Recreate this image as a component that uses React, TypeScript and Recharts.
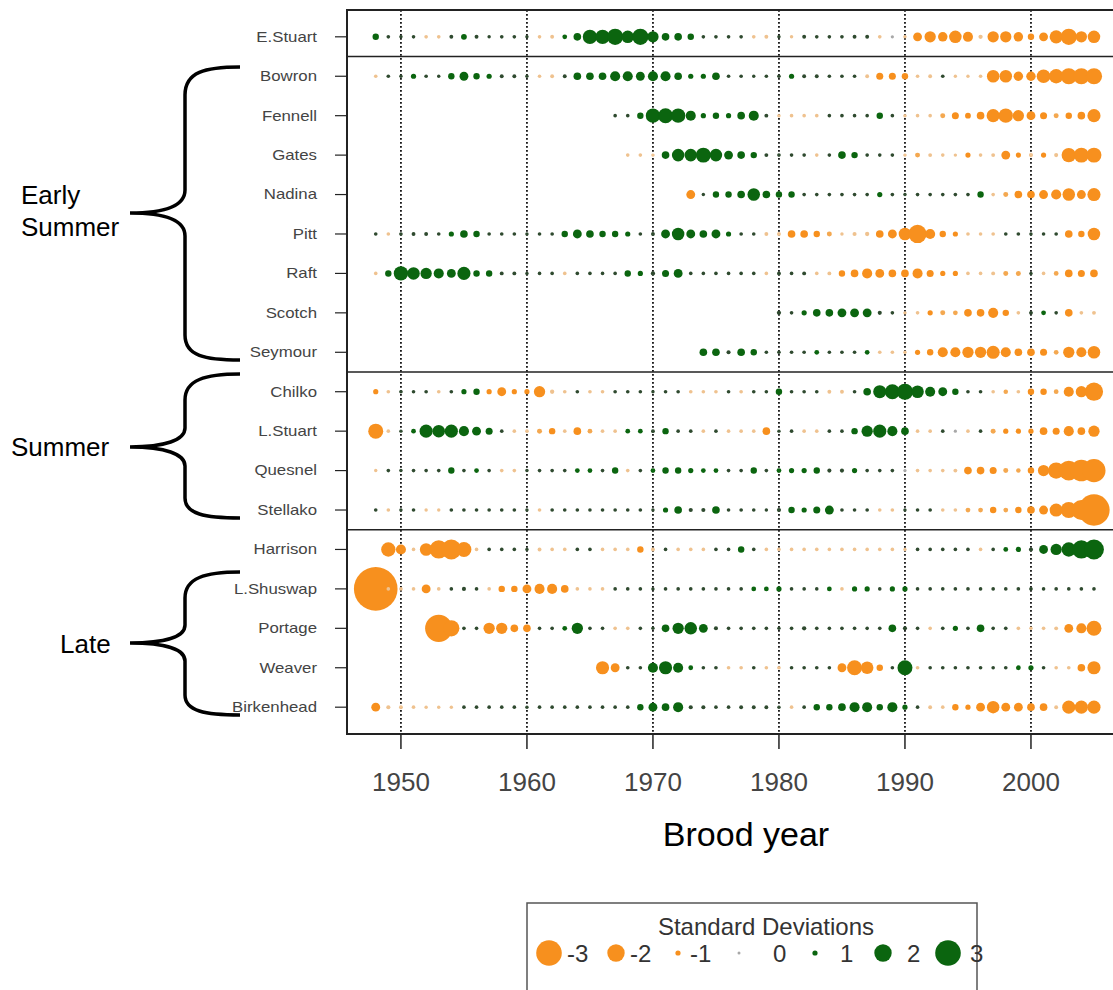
import React from "react";
import {
  ScatterChart, Scatter, XAxis, YAxis, CartesianGrid, ReferenceLine, ReferenceArea,
} from "recharts";

// stocks, top to bottom
const stocks = [
  "E.Stuart", "Bowron", "Fennell", "Gates", "Nadina", "Pitt", "Raft", "Scotch", "Seymour",
  "Chilko", "L.Stuart", "Quesnel", "Stellako",
  "Harrison", "L.Shuswap", "Portage", "Weaver", "Birkenhead",
];
const startYears = [1948, 1948, 1967, 1968, 1973, 1948, 1948, 1980, 1974, 1948, 1948, 1948, 1948, 1949, 1948, 1953, 1966, 1948];

// standardized residuals (in SD) by brood year, from each stock's first year
const eStuart = [
  1.1, 0.3, 0.2, 0.3, -0.3, -0.3, 0.4, 1.05, 0.4, 0.2,
  0.3, 0.3, 0.2, -0.3, -0.4, 0.8, 1.2, 1.75, 1.75, 1.9,
  1.6, 1.9, 1.5, 1.2, 1.2, 1.1, 0.3, 0.3, 0.3, 0.3,
  -0.3, -0.4, 0.2, -0.2, 0.4, 0.3, 0.3, 0.3, 0.4, 0.4,
  -0.3, -0.1, -0.2, -1.3, -1.5, -1.35, -1.6, -1.4, -0.6, -1.5,
  -1.5, -1.35, -1.1, -1.3, -1.65, -1.9, -1.5, -1.6,
];
const bowron = [
  -0.3, 0.3, 0.2, 1.0, 0.3, 0.2, 1.1, 1.3, 1.1, 1.0,
  0.4, 0.4, 0.2, -0.3, -0.4, 0.4, 1.2, 1.2, 1.2, 1.4,
  1.4, 1.3, 1.4, 1.4, 1.2, 1.0, 1.0, 1.2, 0.3, 0.3,
  0.2, 0.3, 0.3, 1.0, 0.4, 0.4, 0.3, 0.3, 0.3, -0.4,
  -1.15, -1.15, -1.1, -0.3, -0.4, 0.3, -0.2, -0.2, -0.3, -1.6,
  -1.6, -1.35, -1.35, -1.7, -1.75, -1.9, -1.9, -1.9,
];
const fennell = [
  0.3, 0.3, 1.1, 1.75, 1.8, 1.75, 1.4, 1.0, 1.1, 1.0,
  1.2, 1.4, 0.4, -0.2, -0.3, -0.3, -0.3, 0.3, 0.3, 0.3,
  0.3, 1.1, 0.3, -0.2, -0.3, -0.3, -0.9, -1.15, -1.05, -1.2,
  -1.65, -1.75, -1.5, -1.3, -1.15, -0.9, -1.1, -1.2, -1.65,
];
const gates = [
  -0.3, -0.3, -0.2, 1.2, 1.6, 1.6, 1.8, 1.6, 1.3, 1.2,
  1.1, 0.4, 0.3, 0.3, 0.3, -0.3, 0.3, 1.2, 1.1, 0.3,
  0.3, 0.3, -0.2, -0.9, -0.4, -0.3, -0.2, -1.0, -0.3, -0.4,
  -1.3, -1.0, -0.5, -1.0, -0.5, -1.75, -1.8, -1.8,
];
const nadina = [
  -1.3, 0.2, 1.1, 1.1, 1.2, 1.6, 1.2, 1.1, 1.1, 0.3,
  0.3, 0.3, 0.3, 0.3, 0.3, 1.0, 0.3, 0.2, 0.3, 0.3,
  0.3, 0.3, 0.3, 1.1, -0.3, -0.9, -1.2, -1.2, -1.3, -1.4,
  -1.6, -1.3, -1.65,
];
const pitt = [
  0.3, -0.3, 0.3, 0.4, 0.4, 0.3, 1.0, 1.2, 1.1, 0.3,
  0.3, 0.3, 0.2, 0.3, 0.3, 1.1, 1.3, 1.2, 1.1, 1.1,
  1.0, 0.3, 0.4, 1.3, 1.6, 1.3, 1.2, 1.3, 1.0, 0.3,
  0.3, -0.4, -0.4, -1.2, -1.2, -1.1, -0.9, -0.2, -0.5, -0.6,
  -1.2, -1.3, -1.6, -2.1, -1.4, -1.1, -1.0, -0.3, -0.3, -0.3,
  0.3, 0.3, 0.2, 0.3, 0.3, -1.2, -1.1, -1.6,
];
const raft = [
  -0.3, 1.1, 1.75, 1.6, 1.5, 1.4, 1.3, 1.65, 1.1, 1.1,
  0.4, 0.4, 0.2, 0.3, 0.3, -0.3, 0.3, 0.3, 0.3, 0.3,
  1.1, 1.0, 0.6, 1.15, 1.3, 0.3, 0.3, 0.3, 0.3, 0.3,
  0.3, -0.3, 0.4, 0.3, 0.4, -0.3, -0.4, -1.1, -1.2, -1.4,
  -1.3, -1.2, -1.2, -1.4, -1.15, -1.0, -1.0, -0.3, -0.3, -0.4,
  -0.9, -0.9, 0.2, -0.3, -0.8, -1.2, -1.15, -1.2,
];
const scotch = [
  0.6, 0.3, 1.0, 1.2, 1.2, 1.3, 1.3, 1.3, 0.5, 0.3,
  -0.2, -0.3, -1.0, -0.9, -0.8, -1.2, -1.2, -1.4, -1.1, -0.3,
  0.4, 0.8, 0.3, -1.2, -0.3, -0.4,
];
const seymour = [
  1.2, 1.2, 0.5, 1.2, 1.1, 0.3, 0.3, 0.3, 0.3, 0.8,
  0.3, 0.3, 0.3, 0.8, -0.3, -0.3, -0.2, -1.0, -1.1, -1.4,
  -1.4, -1.5, -1.5, -1.65, -1.4, -1.2, -1.2, -1.15, -0.8, -1.5,
  -1.4, -1.6,
];
const chilko = [
  -1.0, -0.3, 0.3, 0.3, 0.3, -0.3, 0.3, 1.0, 1.1, -1.0,
  -1.3, -1.0, -1.0, -1.5, -0.6, -0.3, 0.3, -0.3, -0.3, 0.3,
  0.3, 0.3, 0.2, 0.3, 0.3, -0.3, -0.3, -0.3, 0.3, -0.3,
  0.3, 0.3, 1.1, 0.3, 0.3, 0.3, -0.4, -0.4, 0.3, 1.2,
  1.65, 1.8, 1.9, 1.6, 1.4, 1.3, 1.1, 0.3, 0.3, -0.3,
  -0.7, -0.3, -1.1, -1.1, -0.8, -1.4, -1.5, -2.1,
];
const lStuart = [
  -1.8, -0.3, 0.2, 0.8, 1.65, 1.6, 1.65, 1.4, 1.3, 1.15,
  0.3, -0.3, -0.3, -0.9, -1.1, -0.3, -1.2, -0.8, -0.3, -0.3,
  0.8, 0.8, 0.4, 1.1, 0.3, 0.3, -0.3, 0.3, -0.3, -0.3,
  -0.3, -1.2, 0.2, 0.3, -0.3, -0.3, 0.3, 0.3, 1.1, 1.5,
  1.65, 1.4, 1.2, -0.3, -0.3, 0.3, 0.1, -0.3, 0.3, -0.9,
  -1.0, -1.0, -1.0, -1.2, -1.15, -1.4, -1.2, -1.5,
];
const quesnel = [
  -0.2, 0.3, 0.2, 0.3, 0.3, 0.3, 1.1, 0.3, 0.8, 0.3,
  -0.3, -0.3, 0.2, 0.3, 0.3, 0.3, 0.8, 0.8, 0.3, 1.1,
  -0.3, 0.3, 0.8, 1.1, 1.1, 1.0, 0.8, 0.8, 0.3, 0.3,
  1.1, 0.3, 0.8, 1.0, 1.0, 1.1, 0.5, 0.5, 1.0, 0.3,
  0.3, 0.3, 0.1, -0.3, -0.3, -0.3, -0.4, -1.2, -1.2, -1.15,
  -0.9, -0.7, -1.1, -1.5, -1.9, -2.3, -2.5, -2.7,
];
const stellako = [
  0.3, -0.3, 0.2, 0.3, -0.2, -0.2, 0.3, 0.3, 0.3, 0.3,
  0.3, 0.3, 0.2, -0.3, 0.3, 0.3, 0.3, 0.3, 0.3, 0.3,
  0.3, 0.3, 0.2, 1.0, 1.2, 0.5, 0.5, 1.2, 0.3, 0.3,
  0.3, 0.2, 0.5, 1.1, 1.0, 1.15, 1.3, 0.3, 0.3, 0.3,
  -0.3, -0.3, 0.2, 0.3, 0.3, -0.3, -0.3, -0.8, -0.8, -1.1,
  -0.8, -1.1, -1.2, -1.3, -1.65, -1.9, -2.3, -3.7,
];
const harrison = [
  -1.75, -1.4, -0.3, -1.6, -2.1, -2.3, -1.8, -0.3, 0.3, 0.3,
  0.3, 0.2, -0.4, -0.3, -0.3, 0.3, 0.3, -0.3, -0.3, -0.3,
  -1.1, -0.4, 0.3, -0.3, -0.3, -0.3, 0.3, 0.3, 1.1, 0.3,
  -0.3, -0.3, -0.3, -0.3, -0.3, -0.3, -0.3, -0.3, -0.3, -0.3,
  -0.3, -0.2, 0.3, 0.3, 0.3, 0.3, 0.3, -0.3, 0.3, 0.8,
  1.0, 0.5, 1.3, 1.5, 1.75, 2.1, 2.3,
];
const lShuswap = [
  -5.2, -0.3, -0.3, -0.3, -1.3, -0.3, 0.3, 0.5, 0.3, -0.3,
  -1.1, -1.1, -1.3, -1.4, -1.4, -1.2, -0.3, -0.3, -0.3, 0.3,
  0.3, 0.3, 0.2, 0.3, 0.3, 0.3, 0.3, 0.3, 0.3, 0.3,
  0.8, 0.8, 1.0, 0.3, 0.3, 0.3, 0.8, -0.3, 1.0, 1.0,
  0.3, 1.0, 1.0, 0.3, 0.3, 0.3, 0.3, 0.3, 0.3, 0.3,
  0.3, 0.3, 0.3, 0.3, 0.3, 0.3, 0.3, 0.3,
];
const portage = [
  -3.2, -1.9, 0.3, 0.3, -1.5, -1.5, -1.2, -1.2, 0.3, 0.3,
  0.8, 1.5, 0.3, 0.3, -0.3, -0.3, 0.3, 0.2, 1.2, 1.5,
  1.6, 1.3, 0.5, 0.3, 0.3, 0.3, 0.3, 0.2, 0.3, 0.6,
  0.3, 0.3, 0.3, 0.3, 0.3, 0.3, 1.2, 0.5, 0.3, -0.3,
  0.3, 1.0, 0.3, 1.2, 0.3, 0.3, -0.3, -0.2, -0.3, -0.4,
  -1.3, -1.4, -1.8,
];
const weaver = [
  -1.65, -1.3, 0.3, 0.3, 1.4, 1.65, 1.4, 0.8, 0.3, 0.3,
  -0.3, -0.3, 0.3, -0.3, -0.3, 0.3, 0.3, 0.3, 0.3, -1.3,
  -1.8, -1.6, -1.1, 0.3, 1.8, -0.3, 0.3, 0.3, 0.3, 0.3,
  0.3, 0.3, 0.3, 0.8, 1.0, 0.3, -0.3, -0.3, -1.2, -1.65,
];
const birkenhead = [
  -1.3, -0.5, -0.4, -0.3, -0.2, -0.2, -0.2, 0.3, 0.3, 0.3,
  0.3, 0.3, 0.2, 0.3, 0.3, 0.3, 0.3, 0.3, 0.3, 0.3,
  0.3, 1.1, 1.3, 1.2, 1.4, 0.5, 0.5, 0.3, 0.3, 0.4,
  0.4, 0.4, 0.2, -0.3, 0.3, 1.1, 1.1, 1.2, 1.4, 1.4,
  1.1, 1.4, 1.0, 0.3, -0.4, -0.3, -1.1, -1.0, -1.3, -1.6,
  -1.3, -1.3, -1.2, -1.2, -0.4, -1.65, -1.65, -1.65,
];

const series = [
  eStuart, bowron, fennell, gates, nadina, pitt, raft, scotch, seymour,
  chilko, lStuart, quesnel, stellako,
  harrison, lShuswap, portage, weaver, birkenhead,
];

const yearTicks = [1950, 1960, 1970, 1980, 1990, 2000];
const legendValues = [-3, -2, -1, 0, 1, 2, 3];
const groupSeparators = [0.5, 8.5, 12.5];

const points = series.flatMap((vals, row) =>
  vals.map((sd, k) => ({ year: startYears[row] + k, row, sd }))
);

// symbol radius from |SD|
const rad = (sd: number) => {
  const a = Math.abs(sd);
  if (a <= 1) return 1.5 + 1.1 * a;
  if (a <= 2) return 2.6 + 6.1 * (a - 1);
  return 8.7 + 4.1 * (a - 2);
};
const col = (sd: number) => {
  const a = Math.abs(sd);
  if (a < 0.15) return "#a8a8a8";
  if (sd < 0) return a < 0.7 ? "#efc28f" : a < 1 ? "#f4a850" : "#f7901e";
  return a < 0.7 ? "#2f4a2f" : "#0b650f";
};

const FONT = "'Liberation Sans', Arial, sans-serif";
const W = 1140;
const H = 990;

const Bubble = (p: any) => (
  <circle cx={p.cx} cy={p.cy} r={rad(p.payload.sd)} fill={col(p.payload.sd)} />
);

const StockTick = ({ x, y, payload }: any) => (
  <g transform={`translate(${x},${y})`}>
    <text textAnchor="end" dy="0.35em" transform="scale(1.2,1)" fontSize={14} fill="#444" fontFamily={FONT}>
      {stocks[payload.value]}
    </text>
  </g>
);

const braces = [
  { label: ["Early", "Summer"], lx: 21, ly: [204, 236], d: "M240,67 C205,67 185,72 185,95 L185,190 C185,206 165,213 130,213 C165,213 185,220 185,236 L185,335 C185,356 205,360 240,360" },
  { label: ["Summer"], lx: 11, ly: [456], d: "M240,374 C205,374 185,380 185,400 L185,428 C185,440 165,447 130,447 C165,447 185,454 185,466 L185,498 C185,514 205,518 240,518" },
  { label: ["Late"], lx: 60, ly: [653], d: "M240,572 C205,572 185,578 185,598 L185,625 C185,637 165,643 130,643 C165,643 185,649 185,661 L185,695 C185,711 205,715 240,715" },
];

const legendDotX = [549, 616, 678, 739, 815, 883, 948];
const legendTextX = [567, 630, 690, 773, 840, 907, 970];

export default function App() {
  return (
    <div style={{ position: "fixed", left: 0, top: 0, width: 1113, height: 990, overflow: "hidden", background: "#fff" }}>
      <ScatterChart width={W} height={H} margin={{ top: 10, right: 17.3, bottom: 196, left: 0 }}>
        <CartesianGrid horizontal={false} stroke="#111" strokeDasharray="1.8 2.2" strokeWidth={1.8} />
        <XAxis
          type="number" dataKey="year" domain={[1945.72, 2007.28]} ticks={yearTicks} interval={0}
          allowDataOverflow axisLine={false} tickSize={15} tickMargin={24} height={60}
          tickLine={{ stroke: "#222", strokeWidth: 1.5 }}
          tick={{ fontSize: 26, fill: "#444", fontFamily: FONT }}
        />
        <YAxis
          type="number" dataKey="row" domain={[-0.68, 17.68]} reversed interval={0}
          ticks={stocks.map((_, i) => i)} width={347} axisLine={false}
          tickSize={12} tickMargin={18} tickLine={{ stroke: "#222", strokeWidth: 1.2 }}
          tick={<StockTick />}
        />
        {groupSeparators.map((y) => (
          <ReferenceLine key={y} y={y} stroke="#222" strokeWidth={1.5} />
        ))}
        <ReferenceArea x1={1945.72} x2={2007.28} y1={-0.68} y2={17.68} fill="none" stroke="#222" strokeWidth={2} ifOverflow="visible" />
        <Scatter data={points} shape={Bubble} isAnimationActive={false} />
      </ScatterChart>

      <svg width={1113} height={990} style={{ position: "absolute", left: 0, top: 0, pointerEvents: "none" }}>
        {braces.map((b, i) => (
          <g key={i}>
            <path d={b.d} fill="none" stroke="#000" strokeWidth={3.5} />
            {b.label.map((t, j) => (
              <text key={t} x={b.lx} y={b.ly[j]} fontSize={26} fontFamily={FONT} fill="#000">{t}</text>
            ))}
          </g>
        ))}
        <text x={746} y={846} textAnchor="middle" fontSize={34} fontFamily={FONT} fill="#000">Brood year</text>

        <rect x={527} y={903} width={450} height={110} fill="#fff" stroke="#555" strokeWidth={1.5} />
        <text x={766} y={935} textAnchor="middle" fontSize={24} fontFamily={FONT} fill="#333">Standard Deviations</text>
        {legendValues.map((v, i) => (
          <g key={v}>
            <circle cx={legendDotX[i]} cy={953} r={rad(v)} fill={col(v)} />
            <text x={legendTextX[i]} y={962} fontSize={24} fontFamily={FONT} fill="#333">{v}</text>
          </g>
        ))}
      </svg>
    </div>
  );
}
